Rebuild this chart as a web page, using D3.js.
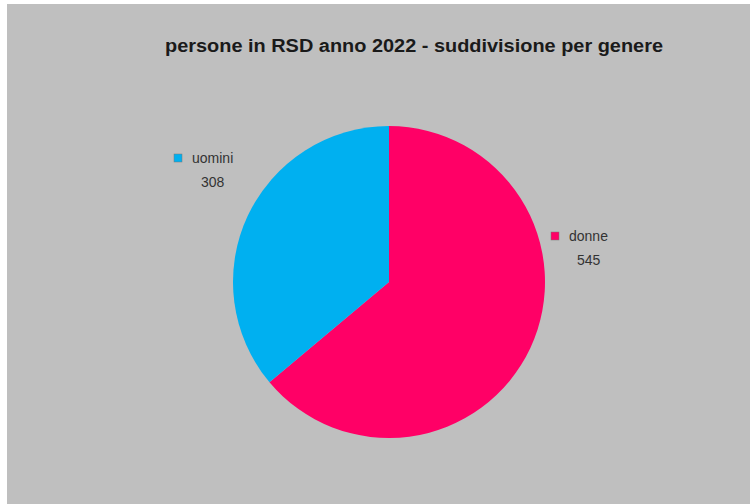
<!DOCTYPE html>
<html>
<head>
<meta charset="utf-8">
<script src="https://cdn.jsdelivr.net/npm/d3@7"></script>
<style>
  html, body { margin: 0; padding: 0; background: #ffffff; }
  svg { display: block; }
</style>
</head>
<body>
<script>
// Persone in RSD, anno 2022, suddivise per genere
const categories = ["donne", "uomini"];
const values = [545, 308];
const colors = ["#ff0066", "#00b0f0"];
const titleText = "persone in RSD anno 2022 - suddivisione per genere";

const W = 750, H = 504;
const FONT = "Liberation Sans, Arial, sans-serif";
const svg = d3.select("body").append("svg").attr("width", W).attr("height", H);

// grey chart area
svg.append("rect").attr("x", 7).attr("y", 4).attr("width", W - 7).attr("height", H - 4)
  .attr("fill", "#bfbfbf");

svg.append("text")
  .attr("x", 165).attr("y", 52)
  .attr("font-family", FONT)
  .attr("font-weight", "bold")
  .attr("font-size", 18)
  .attr("textLength", 498)
  .attr("lengthAdjust", "spacingAndGlyphs")
  .attr("fill", "#1a1a1a")
  .text(titleText);

const cx = 389, cy = 282, r = 156;
const pie = d3.pie().sort(null).value(d => d.value);
const arcs = pie(categories.map((c, i) => ({ name: c, value: values[i], color: colors[i] })));
const arc = d3.arc().innerRadius(0).outerRadius(r);

const g = svg.append("g").attr("transform", `translate(${cx},${cy})`);
g.selectAll("path").data(arcs).join("path")
  .attr("d", arc)
  .attr("fill", d => d.data.color);

// labels placed outside the pie: marker, category name, value centred below
const labelPos = { donne: [555, 236], uomini: [178, 158] };
arcs.forEach(a => {
  const [lx, ly] = labelPos[a.data.name];
  const lg = svg.append("g").attr("transform", `translate(${lx},${ly})`);
  lg.append("rect").attr("x", -4).attr("y", -4).attr("width", 8).attr("height", 8)
    .attr("fill", a.data.color).attr("stroke", "#777").attr("stroke-width", 0.5);
  const name = lg.append("text").attr("x", 14).attr("y", 5)
    .attr("font-family", FONT)
    .attr("font-size", 14).attr("fill", "#333")
    .text(a.data.name);
  const bb = name.node().getBBox();
  lg.append("text").attr("x", bb.x + bb.width / 2).attr("y", 29).attr("text-anchor", "middle")
    .attr("font-family", FONT)
    .attr("font-size", 14).attr("fill", "#333")
    .text(a.data.value);
});
</script>
</body>
</html>
